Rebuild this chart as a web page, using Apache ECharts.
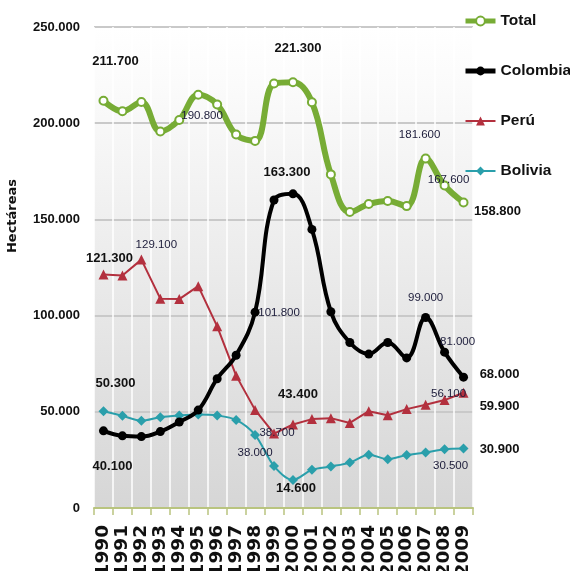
<!DOCTYPE html>
<html>
<head>
<meta charset="utf-8">
<script src="https://cdn.jsdelivr.net/npm/echarts@6/dist/echarts.min.js"></script>
<style>
  html, body { margin: 0; padding: 0; background: #fff; }
  #chart { width: 570px; height: 571px; }
</style>
</head>
<body>
<div id="chart"></div>
<script>
// años
const years = ['1990', '1991', '1992', '1993', '1994', '1995', '1996', '1997', '1998', '1999',
  '2000', '2001', '2002', '2003', '2004', '2005', '2006', '2007', '2008', '2009']

// hectáreas por país
const total = [211700, 206200, 211000, 195700, 201700, 214800, 209700, 194100, 190800, 220600,
  221300, 210900, 173400, 153800, 158000, 159600, 156900, 181600, 167600, 158800]
const colombia = [40100, 37500, 37100, 39700, 44700, 50900, 67200, 79400, 101800, 160100,
  163300, 144800, 102000, 86000, 80000, 86000, 78000, 99000, 81000, 68000]
const peru = [121300, 120800, 129100, 108800, 108600, 115300, 94400, 68800, 51000, 38700,
  43400, 46200, 46700, 44200, 50300, 48200, 51400, 53700, 56100, 59900]
const bolivia = [50300, 47900, 45300, 47200, 48100, 48600, 48100, 45800, 38000, 21800,
  14600, 19900, 21600, 23600, 27700, 25400, 27500, 28900, 30500, 30900]

// etiquetas: indice del año, desplazamiento, negrita
const totalLabels = [[0, 12, -39, 1], [8, -53, -25, 0], [10, 5, -34, 1], [17, -6, -24, 0], [18, 4, -6, 0], [19, 34, 9, 1]]
const colombiaLabels = [[0, 9, 36, 1], [8, 24, 1, 0], [10, -6, -21, 1], [17, 0, -20, 0], [18, 13, -10, 0], [19, 36, -3, 1]]
const peruLabels = [[0, 6, -16, 1], [2, 15, -15, 0], [9, 3, -1, 0], [10, 5, -30, 1], [18, 4, -6, 0], [19, 36, 14, 1]]
const boliviaLabels = [[0, 12, -28, 1], [8, 0, 18, 0], [10, 3, 9, 1], [18, 6, 17, 0], [19, 36, 1, 1]]

const sans = '"Liberation Sans", Arial, sans-serif'

// 211700 -> 211.700
const fmt = (v) => (v === 0 ? '0' : (v / 1000).toFixed(3))

// datos con etiquetas sueltas
const withLabels = (values, labels) => {
  return values.map((v, i) => {
    const l = labels.find((x) => x[0] === i)
    if (!l) return v
    return {
      value: v,
      label: {
        show: true,
        position: 'inside',
        align: 'center',
        verticalAlign: 'middle',
        offset: [l[1], l[2]],
        formatter: fmt(v),
        fontFamily: sans,
        fontWeight: l[3] ? 'bold' : 'normal',
        fontSize: l[3] ? 13 : 11.5,
        color: l[3] ? '#111' : '#1c1c3a',
      },
    }
  })
}

const chart = echarts.init(document.getElementById('chart'))

const options = {
  animation: false,
  backgroundColor: '#fff',
  grid: {
    left: 94,
    right: 97,
    top: 27,
    bottom: 63,
    containLabel: false,
    outerBoundsMode: 'none',
    show: true,
    borderWidth: 0,
    backgroundColor: new echarts.graphic.LinearGradient(0, 0, 0, 1, [
      { offset: 0, color: '#ffffff' },
      { offset: 0.12, color: '#fbfbfb' },
      { offset: 1, color: '#d6d6d6' },
    ]),
  },
  legend: {
    orient: 'vertical',
    left: 463,
    top: 11,
    padding: 0,
    itemWidth: 30,
    itemHeight: 11,
    itemGap: 30,
    textStyle: {
      fontFamily: sans,
      fontWeight: 'bold',
      fontSize: 15.5,
      lineHeight: 20,
      color: '#111',
    },
    data: [
      { name: 'Total', lineStyle: { width: 5 } },
      { name: 'Colombia', lineStyle: { width: 5 } },
      { name: 'Perú', lineStyle: { width: 2 } },
      { name: 'Bolivia', lineStyle: { width: 2 } },
    ],
  },
  graphic: [
    {
      type: 'text',
      x: 13,
      y: 216,
      rotation: Math.PI / 2,
      style: {
        text: 'Hectáreas',
        align: 'center',
        verticalAlign: 'middle',
        fontFamily: '"DejaVu Sans", sans-serif',
        fontWeight: 'bold',
        fontSize: 13,
        fill: '#111',
      },
    },
  ],
  xAxis: {
    type: 'category',
    data: years,
    boundaryGap: true,
    axisLine: { lineStyle: { color: '#b9c47f', width: 2 } },
    axisTick: { show: true, length: 7, lineStyle: { color: '#b9c47f', width: 1.5 } },
    splitLine: { show: true, lineStyle: { color: '#ffffff', width: 1.5 } },
    axisLabel: {
      interval: 0,
      rotate: 90,
      margin: 17,
      fontFamily: '"DejaVu Sans", sans-serif',
      fontWeight: 'bold',
      fontSize: 18.5,
      color: '#111',
    },
  },
  yAxis: {
    type: 'value',
    min: 0,
    max: 250000,
    interval: 50000,
    axisLine: { show: false },
    axisTick: { show: false },
    splitLine: { lineStyle: { color: '#c9c9c9', width: 2 } },
    axisLabel: {
      margin: 14,
      formatter: fmt,
      fontFamily: sans,
      fontWeight: 'bold',
      fontSize: 13,
      color: '#111',
    },
  },
  series: [
    {
      name: 'Total',
      type: 'line',
      smooth: 0.4,
      symbol: 'circle',
      symbolSize: 8,
      lineStyle: { color: '#77ac35', width: 6 },
      itemStyle: { color: '#ffffff', borderColor: '#77ac35', borderWidth: 2 },
      label: { show: false },
      z: 5,
      data: withLabels(total, totalLabels),
    },
    {
      name: 'Colombia',
      type: 'line',
      smooth: 0.4,
      symbol: 'circle',
      symbolSize: 9,
      lineStyle: { color: '#000000', width: 4 },
      itemStyle: { color: '#000000' },
      label: { show: false },
      z: 4,
      data: withLabels(colombia, colombiaLabels),
    },
    {
      name: 'Perú',
      type: 'line',
      symbol: 'triangle',
      symbolSize: 10,
      lineStyle: { color: '#b3303e', width: 2 },
      itemStyle: { color: '#b3303e' },
      label: { show: false },
      z: 3,
      data: withLabels(peru, peruLabels),
    },
    {
      name: 'Bolivia',
      type: 'line',
      smooth: 0.3,
      symbol: 'diamond',
      symbolSize: 10,
      lineStyle: { color: '#2a9fab', width: 2 },
      itemStyle: { color: '#2a9fab' },
      label: { show: false },
      z: 3,
      data: withLabels(bolivia, boliviaLabels),
    },
  ],
}

chart.setOption(options)
</script>
</body>
</html>
